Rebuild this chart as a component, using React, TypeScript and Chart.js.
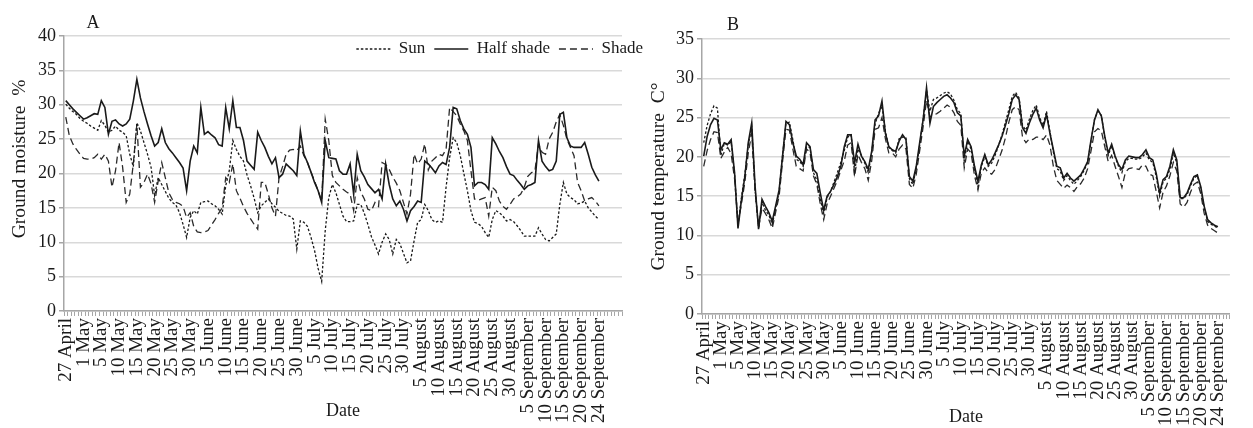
import React, { useEffect, useRef } from 'react';
import { Chart, registerables } from 'chart.js';

Chart.register(...registerables);

// ---------- data ----------
const tickLabels = [
  '27 April', '1 May', '5 May', '10 May', '15 May', '20 May', '25 May', '30 May',
  '5 June', '10 June', '15 June', '20 June', '25 June', '30 June',
  '5 July', '10 July', '15 July', '20 July', '25 July', '30 July',
  '5 August', '10 August', '15 August', '20 August', '25 August', '30 August',
  '5 September', '10 September', '15 September', '20 September', '24 September',
];
const LABEL_STEP = 5; // one date label every 5 daily categories
const moistureCategoryCount = 157;
const temperatureCategoryCount = 154;

const seriesNames = ['Sun', 'Half shade', 'Shade'];

// Panel A: ground moisture (%)
const moistureSun = [
  30.1, 29.5, 29.0, 28.6, 28.0, 27.6, 27.3, 26.9, 26.6, 26.3,
  27.7, 27.0, 26.0, 26.3, 26.9, 26.3, 26.0, 25.5, 22.8, 21.0,
  27.4, 26.2, 24.5, 22.8, 20.9, 16.8, 19.4, 18.4, 17.4, 16.4,
  15.8, 15.4, 14.3, 12.6, 10.7, 13.6, 14.6, 14.1, 15.8, 15.9,
  16.0, 15.6, 15.3, 14.8, 14.1, 18.2, 20.4, 24.8, 23.5, 22.5,
  21.8, 19.8, 18.2, 16.4, 14.3, 15.3, 15.8, 16.3, 15.6, 15.1,
  14.5, 14.2, 13.9, 13.8, 13.4, 9.0, 13.1, 12.9, 12.3, 10.7,
  8.8, 6.2, 4.3, 11.7, 16.5, 18.4, 17.2, 15.5, 13.8, 13.0,
  13.0, 13.1, 15.5, 15.5, 14.2, 12.6, 10.8, 9.6, 8.3, 10.0,
  11.2, 10.4, 8.3, 10.4, 9.8, 8.4, 7.0, 7.3, 10.2, 12.9,
  13.3, 15.5, 14.6, 13.3, 12.9, 13.1, 12.9, 18.0, 22.3, 25.2,
  24.5, 22.6, 20.0, 17.5, 14.6, 12.9, 12.7, 12.3, 11.4, 10.7,
  13.3, 14.6, 14.3, 13.8, 13.1, 13.3, 13.0, 12.4, 11.7, 10.9,
  10.9, 10.9, 10.9, 12.1, 11.2, 10.4, 10.2, 10.7, 11.2, 15.5,
  18.7, 17.0, 16.5, 16.2, 15.6, 15.7, 16.0, 15.0, 14.4, 13.8,
  13.3,
];
const moistureHalfShade = [
  30.6, 30.0, 29.4, 28.9, 28.4, 27.9, 28.1, 28.4, 28.7, 28.6,
  30.6, 29.6, 25.7, 27.6, 27.8, 27.2, 26.9, 27.2, 27.9, 30.5,
  33.7, 31.0, 29.0, 27.2, 25.5, 24.0, 24.5, 26.5, 24.5, 23.6,
  23.0, 22.3, 21.6, 20.8, 17.5, 21.8, 24.0, 23.0, 29.6, 25.7,
  26.1, 25.6, 25.2, 24.2, 24.0, 29.6, 26.5, 30.6, 26.7, 26.7,
  24.8, 21.8, 21.2, 20.6, 26.0, 24.8, 23.8, 22.5, 21.4, 22.3,
  19.4, 19.9, 21.4, 20.9, 20.4, 19.7, 26.2, 22.8, 21.6, 20.2,
  18.7, 17.5, 15.8, 24.8, 22.3, 22.2, 22.1, 20.4, 19.9, 19.9,
  21.4, 17.0, 22.8, 20.4, 19.5, 18.4, 17.8, 17.2, 17.7, 16.3,
  21.4, 18.4, 16.3, 15.3, 16.0, 14.8, 13.1, 14.6, 15.2, 16.0,
  15.8, 21.8, 21.4, 20.8, 20.1, 21.1, 21.6, 21.3, 23.8, 29.6,
  29.4, 27.7, 26.5, 25.7, 23.8, 18.2, 18.7, 18.7, 18.4, 17.7,
  25.2, 24.3, 23.2, 22.3, 21.0, 19.9, 19.7, 19.0, 18.4, 17.7,
  18.2, 18.4, 18.7, 24.8, 21.8, 21.0, 20.4, 20.6, 21.8, 28.6,
  28.9, 25.2, 24.0, 23.8, 23.8, 23.8, 24.5, 22.8, 20.9, 19.8,
  18.9,
];
const moistureShade = [
  28.2, 25.5, 24.3, 23.5, 22.8, 22.2, 22.1, 22.1, 22.3, 22.8,
  22.1, 22.8, 21.8, 18.0, 20.4, 24.5, 20.9, 15.8, 17.0, 21.4,
  27.2, 18.0, 18.7, 19.9, 18.5, 15.8, 18.9, 21.6, 19.4, 17.2,
  16.2, 15.8, 15.6, 15.2, 13.6, 14.3, 12.3, 11.5, 11.4, 11.5,
  11.7, 12.5, 13.3, 14.2, 15.0, 19.4, 18.7, 21.4, 17.5, 16.4,
  15.2, 14.2, 13.4, 12.6, 11.9, 18.7, 18.7, 17.0, 15.0, 13.8,
  19.4, 21.0, 22.8, 23.4, 23.5, 23.3, 24.0, 22.6, 21.6, 20.2,
  18.9, 17.5, 16.0, 27.9, 24.8, 19.7, 18.7, 18.2, 17.7, 17.3,
  17.0, 14.6, 19.4, 17.3, 16.3, 14.8, 14.6, 15.8, 15.2, 21.6,
  21.3, 20.6, 19.5, 18.6, 17.5, 15.8, 14.1, 17.0, 22.8, 21.4,
  22.1, 24.3, 20.5, 21.8, 22.3, 22.8, 22.6, 23.5, 29.6, 29.0,
  28.4, 27.2, 26.2, 24.8, 20.4, 16.3, 16.1, 16.3, 16.5, 13.8,
  18.0, 17.5, 16.0, 15.2, 14.8, 15.5, 16.3, 16.6, 17.0, 18.0,
  19.6, 20.1, 20.4, 24.3, 23.1, 22.8, 25.0, 26.0, 27.5, 28.6,
  27.0, 25.0, 23.8, 22.6, 18.7, 17.5, 16.0, 16.3, 16.5, 16.0,
  15.3,
];

// Panel B: ground temperature (C°)
const temperatureSun = [
  21.8, 24.0, 25.5, 26.5, 26.2, 20.2, 21.7, 21.5, 21.9, 17.8,
  11.3, 14.8, 17.8, 21.5, 23.9, 15.8, 11.0, 14.2, 13.2, 12.6,
  11.4, 13.5, 15.6, 20.2, 24.3, 24.4, 22.2, 19.7, 19.4, 18.8,
  21.3, 21.2, 18.0, 17.0, 14.6, 12.8, 14.8, 15.6, 16.8, 18.0,
  19.3, 20.8, 22.5, 22.8, 18.0, 21.0, 20.2, 19.2, 18.0, 20.5,
  24.2, 25.5, 26.5, 23.3, 21.2, 20.8, 20.5, 22.3, 22.5, 22.5,
  17.2, 16.5, 18.5, 21.5, 24.8, 28.5, 25.8, 27.3, 27.5, 27.8,
  28.1, 28.3, 28.0, 27.2, 26.0, 25.5, 19.5, 22.0, 21.0, 18.5,
  16.2, 18.8, 20.0, 18.8, 19.2, 20.2, 21.4, 22.8, 24.4, 26.0,
  27.7, 28.2, 27.5, 24.0, 23.4, 24.8, 25.9, 26.6, 25.0, 24.0,
  25.8, 23.2, 20.6, 18.5, 18.2, 17.0, 17.6, 17.0, 16.5, 17.0,
  17.5, 18.3, 19.3, 22.0, 24.8, 25.8, 25.3, 22.4, 20.2, 21.4,
  20.0, 18.8, 18.0, 19.4, 19.8, 19.8, 19.7, 19.7, 20.0, 20.5,
  19.6, 19.3, 17.5, 15.0, 16.8, 17.3, 18.4, 20.5, 19.2, 14.7,
  14.7, 15.2, 16.3, 17.3, 17.6, 16.0, 13.5, 11.8, 11.4, 11.2,
  10.9,
];
const temperatureHalfShade = [
  20.1, 22.6, 24.1, 24.9, 24.7, 20.9, 21.8, 21.6, 22.2, 18.0,
  10.9, 14.5, 17.5, 21.8, 24.3, 16.2, 10.8, 14.6, 13.7, 12.9,
  11.8, 13.8, 15.8, 20.1, 24.5, 24.1, 21.8, 20.1, 19.7, 19.0,
  21.8, 21.3, 18.4, 17.9, 15.4, 13.2, 15.0, 15.6, 16.5, 17.5,
  18.8, 21.3, 22.8, 22.8, 19.2, 21.6, 20.1, 19.4, 18.4, 20.7,
  24.7, 25.2, 27.1, 23.0, 21.3, 20.9, 20.7, 22.0, 22.8, 22.2,
  17.5, 16.9, 18.8, 21.8, 24.7, 28.8, 24.3, 26.4, 26.9, 27.3,
  27.7, 27.9, 27.5, 26.9, 25.6, 25.2, 20.1, 22.2, 21.3, 18.8,
  16.9, 19.0, 20.3, 19.0, 19.6, 20.5, 21.5, 22.6, 24.0, 25.5,
  27.3, 27.9, 27.3, 23.7, 23.0, 24.3, 25.4, 26.2, 24.7, 23.7,
  25.4, 23.0, 20.9, 18.8, 18.6, 17.3, 17.9, 17.3, 16.9, 17.3,
  17.7, 18.5, 19.4, 22.2, 24.7, 26.0, 25.2, 22.6, 20.5, 21.6,
  20.1, 19.0, 18.4, 19.6, 20.1, 20.0, 19.9, 19.9, 20.3, 20.9,
  19.9, 19.6, 17.9, 15.4, 17.1, 17.5, 18.8, 20.9, 19.6, 14.8,
  14.8, 15.4, 16.5, 17.5, 17.7, 16.2, 13.7, 12.0, 11.6, 11.3,
  11.1,
];
const temperatureShade = [
  18.8, 20.8, 22.2, 23.2, 23.1, 19.8, 20.6, 21.2, 20.4, 17.2,
  11.6, 14.0, 16.8, 20.5, 23.0, 15.5, 11.0, 13.5, 12.8, 12.0,
  10.9, 13.0, 15.0, 19.4, 23.5, 23.4, 21.0, 18.8, 18.5, 18.2,
  21.0, 20.6, 17.6, 16.5, 14.0, 12.0, 14.0, 15.0, 16.0, 17.0,
  18.3, 19.5, 21.5, 21.8, 17.5, 20.3, 19.3, 18.5, 17.0, 19.5,
  23.5, 23.7, 25.0, 22.3, 20.5, 20.5, 20.0, 21.0, 21.5, 21.0,
  16.5, 16.0, 17.8, 20.8, 23.8, 27.2, 25.1, 25.3, 25.5, 25.8,
  26.2, 26.6, 26.3, 25.6, 24.5, 24.0, 18.6, 21.0, 20.5, 17.6,
  15.8, 18.0, 18.6, 18.0, 17.8, 18.4, 19.6, 20.8, 22.4, 24.4,
  26.0, 26.4, 26.0, 22.5, 21.8, 22.3, 22.2, 22.5, 22.5, 22.2,
  22.8, 21.5, 18.8, 17.0, 16.5, 16.0, 16.4, 16.1, 15.6, 16.2,
  16.6, 17.3, 18.5, 20.8, 23.2, 23.6, 23.3, 21.3, 19.4, 20.2,
  18.8, 17.5, 16.1, 18.0, 18.5, 18.6, 18.5, 18.4, 19.0, 18.8,
  17.8, 17.6, 15.6, 13.5, 15.5, 16.3, 17.6, 19.3, 18.2, 14.0,
  13.6, 14.2, 15.5, 16.5, 16.8, 15.3, 12.8, 11.3, 10.9, 10.6,
  10.3,
];

// ---------- styling ----------
const FONT = "'Liberation Serif', 'Times New Roman', serif";
const INK = '#1a1a1a';
const GRID = '#d9d9d9';
const AXIS = '#a6a6a6';

function buildCategories(count: number): string[] {
  const out: string[] = [];
  for (let i = 0; i < count; i++) {
    const k = i / LABEL_STEP;
    out.push(i % LABEL_STEP === 0 && k < tickLabels.length ? tickLabels[k] : '');
  }
  return out;
}

function buildDatasets(sun: number[], half: number[], shade: number[]) {
  const common = { pointRadius: 0, pointHoverRadius: 0, pointStyle: 'line', tension: 0, fill: false };
  return [
    { ...common, label: seriesNames[0], data: sun, borderColor: INK, backgroundColor: INK, borderWidth: 1.3, borderDash: [2.5, 2] },
    { ...common, label: seriesNames[1], data: half, borderColor: INK, backgroundColor: INK, borderWidth: 1.6, borderDash: [] },
    { ...common, label: seriesNames[2], data: shade, borderColor: '#2a2a2a', backgroundColor: '#2a2a2a', borderWidth: 1.3, borderDash: [7, 4] },
  ];
}

const panelExtras = {
  id: 'panelExtras',
  afterLayout(chart: any, _args: any, opts: any) {
    const lg = chart.legend;
    if (lg && opts.legendBox && lg.options.display) {
      const w = lg.width;
      const h = lg.height;
      lg.right = opts.legendBox.right;
      lg.left = opts.legendBox.right - w;
      lg.top = opts.legendBox.top;
      lg.bottom = opts.legendBox.top + h;
    }
  },
  afterDraw(chart: any, _args: any, opts: any) {
    if (!opts.letter) return;
    const ctx = chart.ctx;
    ctx.save();
    ctx.font = `18px ${FONT}`;
    ctx.fillStyle = INK;
    ctx.textAlign = 'center';
    ctx.textBaseline = 'middle';
    ctx.fillText(opts.letter, opts.letterX, opts.letterY);
    ctx.restore();
  },
};

type PanelSpec = {
  categories: string[];
  datasets: any[];
  yMax: number;
  yTitle: string;
  yTitlePad: number;
  yAxisWidth: number;
  xAxisHeight: number;
  dateTitlePad: number;
  padding: { left: number; right: number; top: number; bottom: number };
  showLegend: boolean;
  legendBox?: { right: number; top: number };
  letter: string;
  letterX: number;
  letterY: number;
};

function legendLabels(chart: any) {
  const base = (Chart.defaults as any).plugins.legend.labels.generateLabels(chart);
  return base.map((item: any) => {
    const ds = chart.data.datasets[item.datasetIndex];
    return {
      ...item,
      pointStyle: 'line',
      lineDash: ds.borderDash || [],
      lineWidth: ds.borderWidth,
      strokeStyle: ds.borderColor,
      fillStyle: ds.borderColor,
      fontColor: INK,
    };
  });
}

function makeConfig(p: PanelSpec): any {
  return {
    type: 'line',
    data: { labels: p.categories, datasets: p.datasets },
    plugins: [panelExtras],
    options: {
      responsive: false,
      animation: false,
      events: [],
      layout: { padding: p.padding },
      plugins: {
        tooltip: { enabled: false },
        title: { display: false },
        legend: {
          display: p.showLegend,
          position: 'top',
          align: 'end',
          labels: {
            usePointStyle: true,
            pointStyle: 'line',
            pointStyleWidth: 34,
            boxHeight: 17,
            padding: 9,
            color: INK,
            font: { family: FONT, size: 17 },
            generateLabels: legendLabels,
          },
        },
        panelExtras: { legendBox: p.legendBox, letter: p.letter, letterX: p.letterX, letterY: p.letterY },
      },
      scales: {
        x: {
          type: 'category',
          offset: true,
          grid: { display: true, drawOnChartArea: false, drawTicks: true, tickLength: 5, color: AXIS, lineWidth: 1, offset: true },
          border: { display: true, color: AXIS, width: 1.5 },
          ticks: { autoSkip: false, maxRotation: 90, minRotation: 90, padding: 2, color: INK, font: { family: FONT, size: 19 } },
          title: { display: true, text: 'Date', color: INK, font: { family: FONT, size: 18 }, padding: { top: 0, bottom: p.dateTitlePad } },
          afterFit: (s: any) => { s.height = p.xAxisHeight; },
        },
        y: {
          min: 0,
          max: p.yMax,
          ticks: { stepSize: 5, padding: 3, color: INK, font: { family: FONT, size: 18 } },
          grid: { color: GRID, lineWidth: 1.5, drawTicks: true, tickLength: 5, tickColor: AXIS },
          border: { display: true, color: AXIS, width: 1.5 },
          title: { display: true, text: p.yTitle, color: INK, font: { family: FONT, size: 19.5 }, padding: { top: p.yTitlePad, bottom: 0 } },
          afterFit: (s: any) => { s.width = p.yAxisWidth; },
        },
      },
    },
  };
}

function ChartCanvas({ left, width, height, spec }: { left: number; width: number; height: number; spec: () => PanelSpec }) {
  const ref = useRef<HTMLCanvasElement>(null);
  useEffect(() => {
    const chart = new Chart(ref.current as HTMLCanvasElement, makeConfig(spec()));
    return () => chart.destroy();
  }, []);
  return (
    <canvas
      ref={ref}
      width={width}
      height={height}
      style={{ position: 'absolute', left, top: 0, width, height }}
    />
  );
}

const H = 428;

const moistureSpec = (): PanelSpec => ({
  categories: buildCategories(moistureCategoryCount),
  datasets: buildDatasets(moistureSun, moistureHalfShade, moistureShade),
  yMax: 40,
  yTitle: '      Ground moisture  %',
  yTitlePad: 8,
  yAxisWidth: 64,
  xAxisHeight: H - 311,
  dateTitlePad: 6,
  padding: { left: 0, right: 660 - 622, top: 0, bottom: 0 },
  showLegend: true,
  legendBox: { right: 652, top: 31.5 },
  letter: 'A',
  letterX: 93,
  letterY: 23,
});

const temperatureSpec = (): PanelSpec => ({
  categories: buildCategories(temperatureCategoryCount),
  datasets: buildDatasets(temperatureSun, temperatureHalfShade, temperatureShade),
  yMax: 35,
  yTitle: 'Ground temperature  C°',
  yTitlePad: 7,
  yAxisWidth: 62,
  xAxisHeight: H - 314,
  dateTitlePad: 0,
  padding: { left: 0, right: 0, top: 39, bottom: 0 },
  showLegend: false,
  letter: 'B',
  letterX: 93,
  letterY: 25,
});

export default function App() {
  return (
    <div style={{ position: 'fixed', left: 0, top: 0, width: 1253, height: H, background: '#ffffff', overflow: 'hidden' }}>
      <ChartCanvas left={0} width={660} height={H} spec={moistureSpec} />
      <ChartCanvas left={640} width={613} height={H} spec={temperatureSpec} />
    </div>
  );
}
